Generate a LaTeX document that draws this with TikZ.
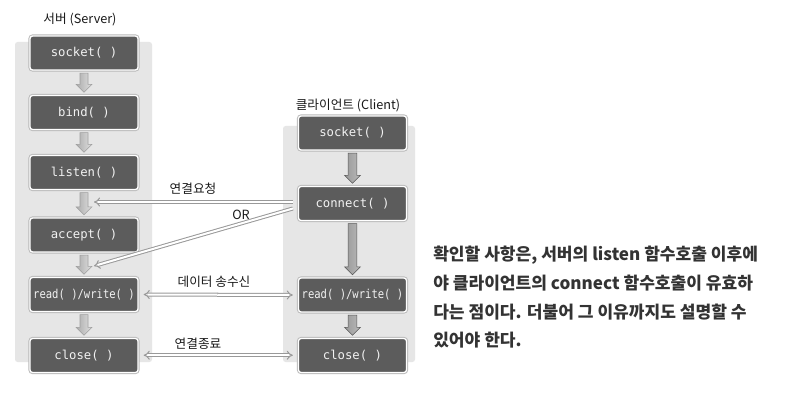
\documentclass[tikz,border=0pt]{standalone}
\usepackage{fontspec}
\usepackage{graphicx}
\usetikzlibrary{arrows.meta,calc}
\newfontfamily\kr{Noto Sans CJK KR}
\newfontfamily\mono{DejaVu Sans Mono}
\definecolor{panel}{HTML}{E6E6E6}
\definecolor{boxfill}{HTML}{5C5C5C}
\definecolor{boxtext}{HTML}{F2F2F2}
\definecolor{linkgray}{HTML}{999999}
\definecolor{bodytext}{HTML}{333333}
\tikzset{
  fnbox/.style={fill=boxfill, draw=white, line width=1pt, rounded corners=2pt,
    preaction={draw=gray!55, line width=2.4pt},
    minimum width=81pt, minimum height=25.5pt, inner sep=0pt,
    text=boxtext, font=\mono\fontsize{9.2}{10}\selectfont},
  lbl/.style={font=\kr\fontsize{9.5}{11}\selectfont, text=black!90, inner sep=0pt},
  link/.style={draw=linkgray, double=white, double distance=1.5pt, line width=0.75pt},
  srvarr/.style={left color=gray!65, right color=gray!25, draw=gray!75, line width=0.4pt},
  cliarr/.style={left color=gray!80, right color=gray!55, draw=black!65, line width=0.4pt},
  body/.style={font=\kr\bfseries\fontsize{12.8}{14}\selectfont, text=bodytext, anchor=west, inner sep=0pt}
}
\newcommand\blockarr[4]{%
  \path let \p1=($(#2.south)+(0,2.5)$), \p2=($(#3.north)+(0,-2.5)$) in
    [#1] (\x1-#4,\y1) -- (\x1+#4,\y1) -- (\x1+#4,\y2+6pt) -- (\x1+6pt,\y2+6pt)
    -- (\x1,\y2) -- (\x1-6pt,\y2+6pt) -- (\x1-#4,\y2+6pt) -- cycle;}
\begin{document}
\begin{tikzpicture}[x=0.75pt,y=-0.75pt]
\useasboundingbox[fill=white] (0,0) rectangle (801,410);
% panels
\fill[panel, rounded corners=2pt] (15,42) rectangle (152,362);
\fill[panel, rounded corners=2pt] (283,126) rectangle (415,362);
% titles
\node[lbl] (stitle) at (80,20) {서버 (Server)};
\node[lbl] (ctitle) at (348,106) {클라이언트 (Client)};
% server boxes
\node[fnbox] (ssock) at (84,53) {socket( )};
\node[fnbox] (sbind) at (84,112.5) {bind( )};
\node[fnbox] (slist) at (84,172.5) {listen( )};
\node[fnbox] (sacc) at (84,235) {accept( )};
\node[fnbox] (srw) at (84,294.5) {\scalebox{0.86}[1]{read( )/write( )}};
\node[fnbox] (sclose) at (84,355.5) {close( )};
% client boxes
\node[fnbox] (csock) at (352.5,133) {socket( )};
\node[fnbox] (ccon) at (352.5,203.5) {connect( )};
\node[fnbox] (crw) at (352.5,295) {\scalebox{0.86}[1]{read( )/write( )}};
\node[fnbox] (cclose) at (352.5,355.5) {close( )};
% server block arrows
\blockarr{srvarr}{ssock}{sbind}{3pt}
\blockarr{srvarr}{sbind}{slist}{3pt}
\blockarr{srvarr}{slist}{sacc}{3pt}
\blockarr{srvarr}{sacc}{srw}{3pt}
\blockarr{srvarr}{srw}{sclose}{3pt}
% client block arrows
\blockarr{cliarr}{csock}{ccon}{3.3pt}
\blockarr{cliarr}{ccon}{crw}{3.3pt}
\blockarr{cliarr}{crw}{cclose}{3.3pt}
% connectors
\coordinate (reqend) at (94,202);
\coordinate (orend) at (94,266);
\draw[link, -{Implies}] ($(ccon.west)+(-5,-1.5)$) -- (reqend);
\draw[link, -{Implies}] ($(ccon.west)+(-5,5)$) -- (orend);
\coordinate (datamid) at ($(srw.east)!0.5!(crw.west)$);
\coordinate (endmid) at ($(sclose.east)!0.5!(cclose.west)+(0,-0.3)$);
\draw[link, -{Implies}] (datamid) -- ($(srw.east)+(5,0)$);
\draw[link, -{Implies}] ($(datamid)+(-1,0)$) -- ($(crw.west)+(-5,0)$);
\draw[link, -{Implies}] (endmid) -- ($(sclose.east)+(5,-0.3)$);
\draw[link, -{Implies}] ($(endmid)+(-1,0)$) -- ($(cclose.west)+(-5,-0.3)$);
% labels
\node[lbl] (lreq) at (193,189) {연결요청};
\node[lbl] (lor) at (241,215) {OR};
\node[lbl] (ldata) at (214,282) {데이터 송수신};
\node[lbl] (lend) at (198,344) {연결종료};
% body text
\node[body] (t1) at (433,255) {확인할 사항은, 서버의 listen 함수호출 이후에};
\node[body] (t2) at (433,283) {야 클라이언트의 connect 함수호출이 유효하};
\node[body] (t3) at (433,312) {다는 점이다. 더불어 그 이유까지도 설명할 수};
\node[body] (t4) at (433,340) {있어야 한다.};
\end{tikzpicture}
\end{document}
